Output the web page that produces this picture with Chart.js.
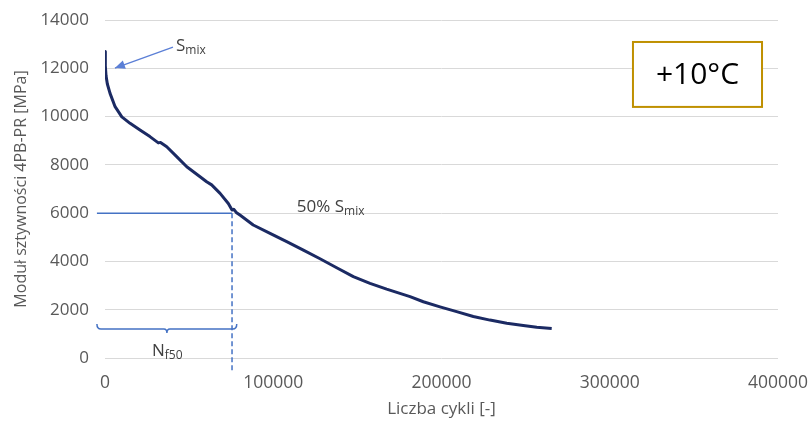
<!DOCTYPE html>
<html>
<head>
<meta charset="utf-8">
<script src="https://cdn.jsdelivr.net/npm/chart.js@4/dist/chart.umd.min.js"></script>
<style>
  html, body { margin: 0; padding: 0; background: #ffffff; }
  #wrap { width: 808px; height: 421px; position: relative; }
</style>
</head>
<body>
<div id="wrap"><canvas id="c" width="808" height="421"></canvas></div>
<script>
// ---- data ----
const cycles = [0, 200, 600, 1400, 3000, 6000, 10000, 14900, 20800, 26700, 31700, 33000, 36700, 42600, 48600, 56500, 60400, 63400, 68400, 73300, 75500, 76500, 78000, 80200, 88100, 98100, 108000, 117900, 127800, 137700, 147600, 157500, 167400, 181300, 189200, 199100, 209000, 218900, 228800, 238800, 248600, 256600, 265500];
const stiffness = [12700, 12100, 11700, 11350, 10960, 10410, 9990, 9720, 9440, 9170, 8910, 8930, 8750, 8340, 7920, 7510, 7300, 7170, 6820, 6400, 6130, 6160, 6030, 5920, 5510, 5160, 4820, 4470, 4110, 3740, 3370, 3090, 2850, 2540, 2330, 2120, 1920, 1720, 1570, 1440, 1350, 1270, 1220];
const xTicks = [0, 100000, 200000, 300000, 400000];
const yTicks = [0, 2000, 4000, 6000, 8000, 10000, 12000, 14000];
const sMix = 12700;
const s50 = 6000;
const nf50 = 75500;
const xTitle = 'Liczba cykli [-]';
const yTitle = 'Moduł sztywności 4PB-PR [MPa]';
const tempLabel = '+10°C';

const FONT = '"Open Sans", sans-serif';

const annotations = {
  id: 'annotations',
  afterDatasetsDraw(chart) {
    const ctx = chart.ctx;
    const xs = chart.scales.x, ys = chart.scales.y;
    const X = v => xs.getPixelForValue(v);
    const Y = v => ys.getPixelForValue(v);
    ctx.save();
    const blue = '#4472C4';
    // horizontal 50% line
    ctx.strokeStyle = blue;
    ctx.lineWidth = 1.5;
    ctx.beginPath();
    ctx.moveTo(X(-4800), Y(s50));
    ctx.lineTo(X(nf50), Y(s50));
    ctx.stroke();
    // dashed vertical line
    ctx.setLineDash([5, 3]);
    ctx.beginPath();
    ctx.moveTo(X(nf50), Y(s50));
    ctx.lineTo(X(nf50), Y(-600));
    ctx.stroke();
    ctx.setLineDash([]);
    // bracket
    const bx0 = X(-4800), bx1 = X(78300), bm = X(36800);
    const by = Y(1200);
    ctx.lineWidth = 1.5;
    ctx.beginPath();
    ctx.moveTo(bx0, by - 5);
    ctx.quadraticCurveTo(bx0, by, bx0 + 4, by);
    ctx.lineTo(bm - 3, by);
    ctx.quadraticCurveTo(bm, by, bm, by + 4);
    ctx.quadraticCurveTo(bm, by, bm + 3, by);
    ctx.lineTo(bx1 - 4, by);
    ctx.quadraticCurveTo(bx1, by, bx1, by - 5);
    ctx.stroke();
    // S_mix arrow
    const ax0 = X(40400), ay0 = Y(12880), ax1 = X(5900), ay1 = Y(12010);
    ctx.strokeStyle = '#5B7FD6';
    ctx.fillStyle = '#5B7FD6';
    ctx.lineWidth = 1.3;
    ctx.beginPath();
    ctx.moveTo(ax0, ay0);
    ctx.lineTo(ax1, ay1);
    ctx.stroke();
    const ang = Math.atan2(ay1 - ay0, ax1 - ax0);
    const hl = 10, hw = 4.5;
    ctx.beginPath();
    ctx.moveTo(ax1, ay1);
    ctx.lineTo(ax1 - hl * Math.cos(ang) + hw * Math.sin(ang), ay1 - hl * Math.sin(ang) - hw * Math.cos(ang));
    ctx.lineTo(ax1 - hl * Math.cos(ang) - hw * Math.sin(ang), ay1 - hl * Math.sin(ang) + hw * Math.cos(ang));
    ctx.closePath();
    ctx.fill();
    // texts with subscripts
    function sub(main, subs, x, y, size) {
      ctx.fillStyle = '#404040';
      ctx.textBaseline = 'alphabetic';
      ctx.textAlign = 'left';
      ctx.font = size + 'px ' + FONT;
      ctx.fillText(main, x, y);
      const w = ctx.measureText(main).width;
      ctx.font = Math.round(size * 0.72) + 'px ' + FONT;
      ctx.fillText(subs, x + w, y + 3);
    }
    sub('S', 'mix', X(42200), Y(12700), 17);
    sub('50% S', 'mix', X(114000), Y(6060), 17);
    sub('N', 'f50', X(27900), Y(80), 17);
    // temperature box
    const tx0 = X(313800), tx1 = X(390500), ty0 = Y(13090), ty1 = Y(10400);
    ctx.fillStyle = '#ffffff';
    ctx.fillRect(tx0, ty0, tx1 - tx0, ty1 - ty0);
    ctx.strokeStyle = '#BF9000';
    ctx.lineWidth = 2;
    ctx.strokeRect(tx0, ty0, tx1 - tx0, ty1 - ty0);
    ctx.fillStyle = '#000000';
    ctx.font = '30px ' + FONT;
    ctx.textAlign = 'center';
    ctx.textBaseline = 'middle';
    ctx.fillText(tempLabel, (tx0 + tx1) / 2, (ty0 + ty1) / 2 + 1);
    ctx.restore();
  }
};

const points = cycles.map((c, i) => ({ x: c, y: stiffness[i] }));

new Chart(document.getElementById('c'), {
  type: 'scatter',
  data: {
    datasets: [{
      data: points,
      showLine: true,
      borderColor: '#1B2A63',
      borderWidth: 3,
      borderJoinStyle: 'round',
      pointRadius: 0,
      tension: 0,
      fill: false
    }]
  },
  options: {
    responsive: false,
    animation: false,
    devicePixelRatio: 1,
    layout: { padding: { left: 0, right: 30, top: 20, bottom: 0 } },
    plugins: { legend: { display: false }, tooltip: { enabled: false } },
    scales: {
      x: {
        type: 'linear',
        min: 0, max: 400000,
        afterBuildTicks: s => { s.ticks = xTicks.map(v => ({ value: v })); },
        afterFit: s => { s.height = 63; s.paddingLeft = 0; s.paddingRight = 0; },
        grid: { display: false, drawTicks: false },
        border: { display: false },
        ticks: { color: '#595959', font: { family: FONT, size: 17.5 }, padding: 15, maxRotation: 0, callback: v => String(v) },
        title: { display: true, text: xTitle, color: '#595959', font: { family: FONT, size: 17 }, padding: { top: 0, bottom: 2 } }
      },
      y: {
        type: 'linear',
        min: 0, max: 14000,
        afterBuildTicks: s => { s.ticks = yTicks.map(v => ({ value: v })); },
        afterFit: s => { s.width = 105; s.paddingTop = 0; s.paddingBottom = 0; },
        grid: { color: '#D9D9D9', lineWidth: 1, drawTicks: false },
        border: { display: false },
        ticks: { color: '#595959', font: { family: FONT, size: 17 }, padding: 16, callback: v => String(v) },
        title: { display: true, text: yTitle, color: '#595959', font: { family: FONT, size: 16 }, padding: { top: 12, bottom: 0 } }
      }
    }
  },
  plugins: [annotations]
});
</script>
</body>
</html>
